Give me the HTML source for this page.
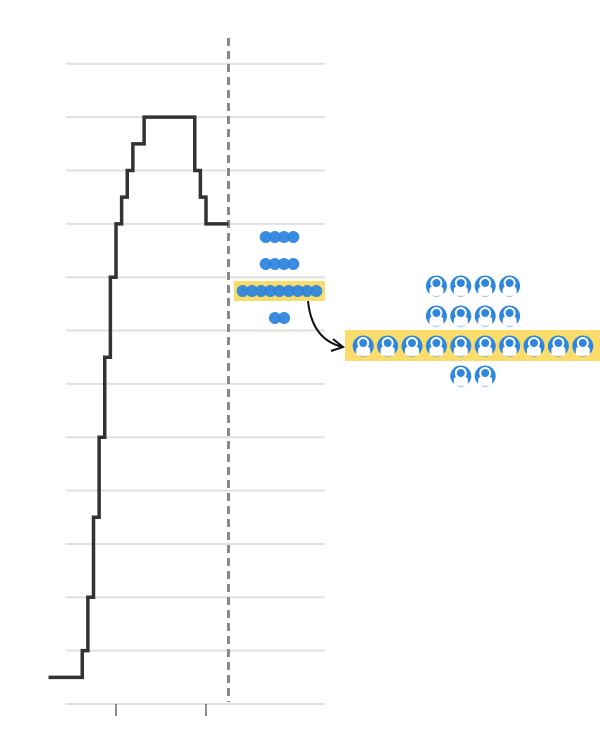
<!DOCTYPE html>
<html><head><meta charset="utf-8"><style>
html,body{margin:0;padding:0;background:#fff;width:600px;height:754px;overflow:hidden}
svg{display:block;font-family:"Liberation Sans",sans-serif}
</style></head><body>
<svg id="chart" width="600" height="754" viewBox="0 0 600 754">
<defs>
<g id="person">
<circle r="10.5" fill="#2e86de"/>
<path d="M-7,9 L-7,4 Q-7,0.5 -3,0.5 L3,0.5 Q7,0.5 7,4 L7,9 Q0,11 -7,9 Z" fill="#fff"/>
<circle cx="0" cy="-3" r="5" fill="#2e86de" stroke="#fff" stroke-width="2"/>
</g>
</defs>
<g id="grid"></g>
<g id="line"></g>
<g id="dots"></g>
<g id="icons"></g>
</svg>
<script>
const gridValues=[0,1,2,3,4,5,6,7,8,9,10,11,12];
const stepDays=[4,10,11,12,13,14,15,16,17,18,19,21,30,31,32,36];
const stepValues=[0.5,1,2,3.5,5,6.5,8,9,9.5,10,10.5,11,10,9.5,9,9];
const xTicks=[16,32];
const cutoffDay=36;
const smallRows=[4,4,9,2];
const bigRows=[4,4,10,2];
const highlightRow=2;
const NS="http://www.w3.org/2000/svg";
const x=d=>26+d*5.625;
const y=v=>704-v*53.35;
function mk(tag,attrs,parent){const e=document.createElementNS(NS,tag);for(const k in attrs)e.setAttribute(k,attrs[k]);parent.appendChild(e);return e;}
const grid=document.getElementById('grid');
gridValues.forEach(v=>{
 const l=mk('line',{x1:66,x2:325,y1:y(v),y2:y(v),stroke:'#e0e0e0','stroke-width':2},grid);
 
 
});
xTicks.forEach(t=>{
 const l=mk('line',{x1:x(t),x2:x(t),y1:704,y2:716,stroke:'#666','stroke-width':1.5},grid);
 
 
});
const cut=mk('line',{x1:x(cutoffDay),x2:x(cutoffDay),y1:38,y2:702,stroke:'#888','stroke-width':3,'stroke-dasharray':'8 5'},grid);


let d='M'+x(stepDays[0])+','+y(stepValues[0]);
for(let i=1;i<stepDays.length;i++){d+=' H'+x(stepDays[i])+' V'+y(stepValues[i]);}
const p=mk('path',{d:d,fill:'none',stroke:'#333','stroke-width':3.5},document.getElementById('line'));


const dots=document.getElementById('dots');
const hl1=mk('rect',{x:234,y:281,width:91,height:20,fill:'#f9dc6a'},dots);


smallRows.forEach((n,r)=>{
 const cy=237+r*27, sp=9.2, cx0=279.5-(n-1)*sp/2;
 for(let i=0;i<n;i++){
  const c=mk('circle',{cx:cx0+i*sp,cy:cy,r:6,fill:'#2e86de',opacity:0.95},dots);
  
  
 }
});
const arrow=mk('path',{d:'M308,301 Q312,340 343,347 M333,339 L343,347 L331,351',fill:'none',stroke:'#111','stroke-width':2},dots);


const icons=document.getElementById('icons');
const hl2=mk('rect',{x:345,y:330,width:255,height:31,fill:'#f9dc6a'},icons);


bigRows.forEach((n,r)=>{
 const cy=286+r*30, sp=24.4, cx0=473-(n-1)*sp/2;
 for(let i=0;i<n;i++){
  const u=mk('use',{href:'#person',x:cx0+i*sp,y:cy},icons);
  
  
 }
});
</script>
</body></html>
